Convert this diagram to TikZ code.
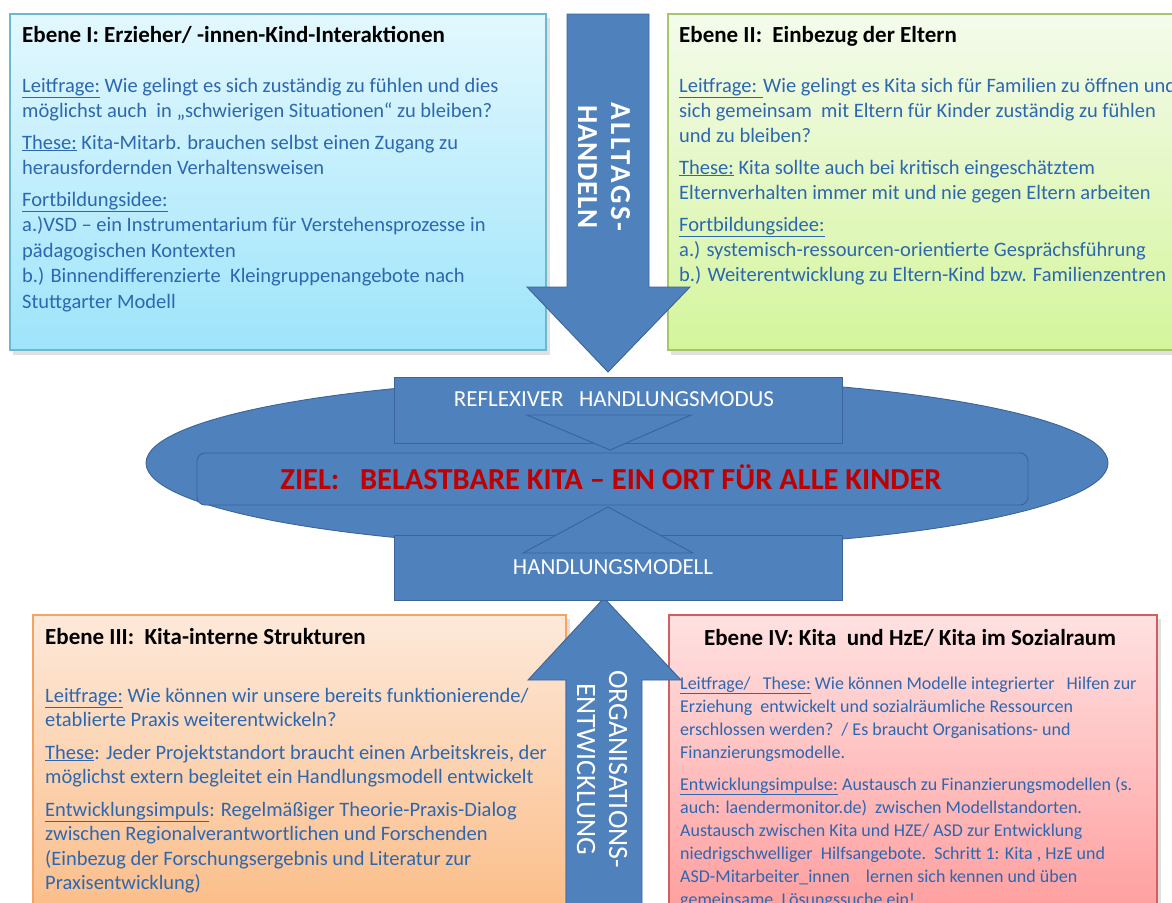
\documentclass[tikz,border=0pt]{standalone}
\usepackage{fontspec}
\setmainfont{Carlito}
\usepackage{graphicx}
\usetikzlibrary{shapes.geometric}
\definecolor{fillblue}{HTML}{4F81BD}
\definecolor{lineblue}{HTML}{3A649A}
\definecolor{tblue}{HTML}{2C67B1}
\definecolor{zielred}{HTML}{C00000}
\definecolor{cAtop}{HTML}{E3F8FE}\definecolor{cAbot}{HTML}{9EE4FB}\definecolor{cAline}{HTML}{6BB8CF}
\definecolor{cBtop}{HTML}{F4FBEC}\definecolor{cBbot}{HTML}{D4F59C}\definecolor{cBline}{HTML}{A5C76A}
\definecolor{cCtop}{HTML}{FDE9DA}\definecolor{cCbot}{HTML}{FBBD88}\definecolor{cCline}{HTML}{F5A262}
\definecolor{cDtop}{HTML}{FFE1E1}\definecolor{cDbot}{HTML}{FF9E9E}\definecolor{cDline}{HTML}{D06060}
\newcommand{\blk}[1]{\vtop{\halign{##\hfil\cr#1\crcr}}}
\newcommand{\gap}[1]{\noalign{\vskip#1}}
\newcommand{\ulx}[1]{\underline{#1}}
\tikzset{
  box/.style={line width=1.4pt},
  shadowbox/.style={fill=black, opacity=0.12},
  bluesh/.style={fill=fillblue, draw=lineblue, line width=0.9pt},
  body/.style={anchor=base west, inner sep=0pt, text=tblue, font=\fontsize{20.5}{25}\selectfont},
  title/.style={anchor=base west, inner sep=0pt, text=black, font=\bfseries\fontsize{23}{27}\selectfont},
  wtext/.style={inner sep=0pt, text=white},
}
\begin{document}
\begin{tikzpicture}[x=1pt,y=-1pt]
\useasboundingbox (0,0) rectangle (1172,902);
\clip (0,0) rectangle (1172,902);
\fill[white] (0,0) rectangle (1172,902);
% ---- boxes
\fill[shadowbox] (13,18) rectangle (550,355);
\draw[box, draw=cAline, top color=cAtop, bottom color=cAbot] (10,14) rectangle (546,350);
\fill[shadowbox] (671,18) rectangle (1190,355);
\draw[box, draw=cBline, top color=cBtop, bottom color=cBbot] (668,14) rectangle (1185,350);
\fill[shadowbox] (36,619) rectangle (570,920);
\draw[box, draw=cCline, top color=cCtop, bottom color=cCbot] (33,615) rectangle (566,915);
\fill[shadowbox] (672,619) rectangle (1161,920);
\draw[box, draw=cDline, top color=cDtop, bottom color=cDbot] (669,615) rectangle (1157,915);
% ---- box texts
\node[title] (t1) at (22,42) {Ebene I: Erzieher/ -innen-Kind-Interaktionen};
\node[body, font=\fontsize{20.5}{25.5}\selectfont] (b1) at (22,92) {\blk{%
\ulx{Leitfrage:} Wie gelingt es sich zuständig zu fühlen und dies\cr
möglichst auch\ \ in „schwierigen Situationen“ zu bleiben?\cr\gap{6pt}
\ulx{These:} Kita-Mitarb. brauchen selbst einen Zugang zu\cr
herausfordernden Verhaltensweisen\cr\gap{6pt}
\ulx{Fortbildungsidee:}\cr
a.)VSD – ein Instrumentarium für Verstehensprozesse in\cr
pädagogischen Kontexten\cr
b.) Binnendifferenzierte\ \ Kleingruppenangebote nach\cr
Stuttgarter Modell}};
\node[title] (t2) at (679,42) {Ebene II:\ \ Einbezug der Eltern};
\node[body] (b2) at (679,92) {\blk{%
\ulx{Leitfrage: }Wie gelingt es Kita sich für Familien zu öffnen und\cr
sich gemeinsam\ \ mit Eltern für Kinder zuständig zu fühlen\cr
und zu bleiben?\cr\gap{7pt}
\ulx{These:} Kita sollte auch bei kritisch eingeschätztem\cr
Elternverhalten immer mit und nie gegen Eltern arbeiten\cr\gap{7pt}
\ulx{Fortbildungsidee:}\cr
a.) systemisch-ressourcen-orientierte Gesprächsführung\cr
b.) Weiterentwicklung zu Eltern-Kind bzw. Familienzentren}};
\node[title] (t3) at (45,644) {Ebene III:\ \ Kita-interne Strukturen};
\node[body, font=\fontsize{20.5}{24.5}\selectfont] (b3) at (45,702) {\blk{%
\ulx{Leitfrage:} Wie können wir unsere bereits funktionierende/\cr
etablierte Praxis weiterentwickeln?\cr\gap{8pt}
\ulx{These}: Jeder Projektstandort braucht einen Arbeitskreis, der\cr
möglichst extern begleitet ein Handlungsmodell entwickelt\cr\gap{8pt}
\ulx{Entwicklungsimpuls}: Regelmäßiger Theorie-Praxis-Dialog\cr
zwischen Regionalverantwortlichen und Forschenden\cr
(Einbezug der Forschungsergebnis und Literatur zur\cr
Praxisentwicklung)}};
\node[title, anchor=base] (t4) at (910,645) {Ebene IV: Kita\ \ und HzE/ Kita im Sozialraum};
\node[body, font=\fontsize{18}{23}\selectfont] (b4) at (680,689) {\blk{%
\ulx{Leitfrage/\ \ \ These:} Wie können Modelle integrierter\ \ \ Hilfen zur\cr
Erziehung\ \ entwickelt und sozialräumliche Ressourcen\cr
erschlossen werden?\ \ / Es braucht Organisations- und\cr
Finanzierungsmodelle.\cr\gap{9pt}
\ulx{Entwicklungsimpulse:} Austausch zu Finanzierungsmodellen (s.\cr
auch: laendermonitor.de)\ \ zwischen Modellstandorten.\cr
Austausch zwischen Kita und HZE/ ASD zur Entwicklung\cr
niedrigschwelliger\ \ Hilfsangebote.\ \ Schritt 1: Kita , HzE und\cr
ASD-Mitarbeiter\_innen\ \ \ \ lernen sich kennen und üben\cr
gemeinsame\ \ Lösungssuche ein!}};
% ---- arrows
\draw[bluesh] (567,14) -- (649,14) -- (649,287) -- (690,287) -- (608,372) -- (527,287) -- (567,287) -- cycle;
\draw[bluesh] (604,598) -- (681,680) -- (642,680) -- (642,915) -- (566,915) -- (566,680) -- (528,680) -- cycle;
\node[wtext, rotate=-90, align=center, font=\bfseries\fontsize{29}{33}\selectfont] (alltags) at (604,167) {{\addfontfeature{LetterSpace=9}ALLTAGS-}\\{\addfontfeature{LetterSpace=2}HANDELN}};
\node[wtext, rotate=-90, align=center, font=\fontsize{28}{32}\selectfont] (orga) at (602,769) {ORGANISATIONS-\\ENTWICKLUNG};
% ---- centre
\draw[bluesh] (627,463) ellipse [x radius=481, y radius=85];
\draw[bluesh] (394,377) rectangle (842,443);
\draw[bluesh] (394,535) rectangle (842,600);
\draw[bluesh] (527,415) -- (691,415) -- (610,450) -- cycle;
\draw[bluesh] (523,553) -- (693,553) -- (608,507) -- cycle;
\draw[bluesh, rounded corners=8pt] (197,453) rectangle (1028,505);
\node[wtext, anchor=base, font=\fontsize{23}{27}\selectfont] (refl) at (614,406) {REFLEXIVER\ \ \ HANDLUNGSMODUS};
\node[wtext, anchor=base, font=\fontsize{23}{27}\selectfont] (hmod) at (613,574) {HANDLUNGSMODELL};
\node[inner sep=0pt, anchor=base, text=zielred, font=\bfseries\fontsize{30.5}{34}\selectfont] (ziel) at (611,489) {ZIEL:\ \ \ BELASTBARE KITA – EIN ORT FÜR ALLE KINDER};
\end{tikzpicture}
\end{document}
